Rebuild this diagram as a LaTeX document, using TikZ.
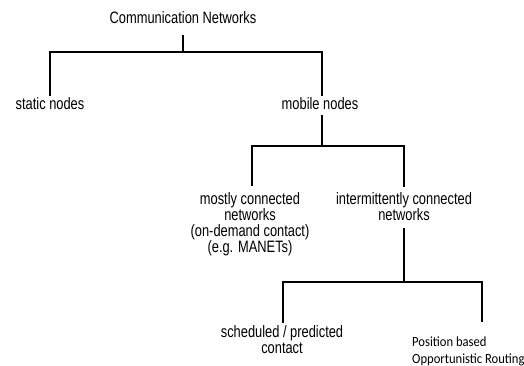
\documentclass[tikz,border=0pt]{standalone}
\usepackage{fontspec}
\setmainfont{Liberation Sans}[FakeStretch=0.78]
\newfontfamily\calibrilike{Carlito}[FakeStretch=0.9]
\begin{document}
\begin{tikzpicture}[x=1pt,y=-1pt,
  lbl/.style={inner sep=0pt, font=\fontsize{16.5}{16}\selectfont, align=center},
  lblc/.style={inner sep=0pt, font=\calibrilike\fontsize{14}{17}\selectfont, align=left},
  link/.style={line width=1.8pt, line cap=rect}]
\useasboundingbox (0,0) rectangle (524,366);

% tree labels
\node[lbl, anchor=base] (root) at (183,24) {Communication Networks};
\node[lbl, anchor=base] (static) at (50,110) {static nodes};
\node[lbl, anchor=base] (mobile) at (320,110) {mobile nodes};
\node[lbl, anchor=north] (mostly) at (250,192) {mostly connected\\networks\\(on-demand contact)\\(e.g. MANETs)};
\node[lbl, anchor=north] (inter) at (404,192) {intermittently connected\\networks};
\node[lbl, anchor=north] (sched) at (282,325) {scheduled / predicted\\contact};
\node[lblc, anchor=north west] (posb) at (412,337) {Position based\\Opportunistic Routing};

% junction points of the three levels
\coordinate (b1) at (183,52);  \coordinate (b1l) at (50,52);  \coordinate (b1r) at (322,52);
\coordinate (b2) at (322,146); \coordinate (b2l) at (252,146); \coordinate (b2r) at (404,146);
\coordinate (b3) at (404,282); \coordinate (b3l) at (283,282); \coordinate (b3r) at (482,282);

% level 1
\draw[link] ([yshift=-12pt]root.south -| b1) -- (b1);
\draw[link] ([yshift=3pt]static.north -| b1l) -- (b1l) -- (b1r) -- ([yshift=3pt]mobile.north -| b1r);
% level 2
\draw[link] ([yshift=-6pt]mobile.south -| b2) -- (b2);
\draw[link] ([yshift=7pt]mostly.north -| b2l) -- (b2l) -- (b2r) -- ([yshift=6pt]inter.north -| b2r);
% level 3
\draw[link] ([yshift=-8pt]inter.south -| b3) -- (b3);
\draw[link] ([yshift=3pt]sched.north -| b3l) -- (b3l) -- (b3r) -- ([yshift=16pt]posb.north -| b3r);
\end{tikzpicture}
\end{document}
